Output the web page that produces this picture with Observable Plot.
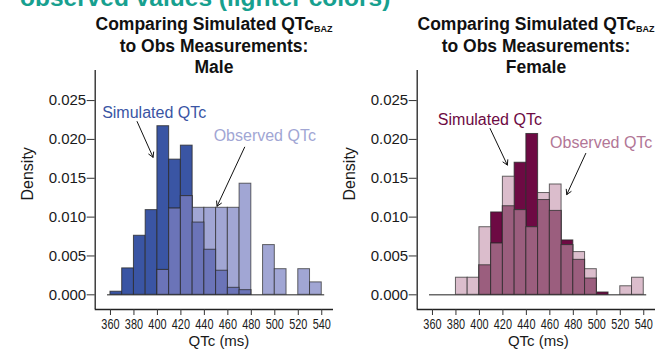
<!DOCTYPE html>
<html>
<head>
<meta charset="utf-8">
<script src="https://cdn.jsdelivr.net/npm/d3@7"></script>
<script src="https://cdn.jsdelivr.net/npm/@observablehq/plot@0.6"></script>
<style>
  body { margin: 0; background: #fff; font-family: "Liberation Sans", Arial, Helvetica, sans-serif; }
  #wrap { position: relative; width: 660px; height: 351px; overflow: hidden; background: #fff; }
  .top { position: absolute; left: 20px; top: -14px; font-weight: bold; font-size: 24.5px; line-height: 24px; color: #17a08f; white-space: nowrap; }
  .title { position: absolute; top: 14px; width: 320px; text-align: center; font-weight: bold; font-size: 17.5px; line-height: 21.5px; color: #111; white-space: nowrap; }
  .title sub { font-size: 9px; line-height: 0; position: relative; top: 2px; vertical-align: baseline; }
  .panel { position: absolute; top: 0; }
</style>
</head>
<body>
<div id="wrap">
  <div class="top">observed values (lighter colors)</div>
  <div class="title" id="tMale"></div>
  <div class="title" id="tFemale"></div>
  <div class="panel" id="pMale" style="left:0"></div>
  <div class="panel" id="pFemale" style="left:330px"></div>
</div>
<script>
// ---- data ----
const bins = [360,370,380,390,400,410,420,430,440,450,460,470,480,490,500,510,520,530];
const binWidth = 10;
const maleSim   = [0.0004,0.0034,0.0076,0.0109,0.0217,0.0174,0.0192,0.0093,0.0058,0.0031,0.0009,0.0006,0,0,0,0,0,0];
const maleObs   = [0,0,0,0,0.0032,0.0111,0.0127,0.0112,0.0112,0.0112,0.0112,0.0143,0,0.0064,0.0033,0,0.0033,0.0016];
const femaleSim = [0,0,0,0,0.0038,0.0106,0.0114,0.0170,0.0207,0.0122,0.0108,0.0070,0.0045,0.0021,0.0003,0,0,0];
const femaleObs = [0,0,0.0022,0.0022,0.0087,0.0066,0.0152,0.0109,0.0087,0.0131,0.0142,0.0064,0.0055,0.0033,0,0,0.0011,0.0022];
const xTicks = [360,380,400,420,440,460,480,500,520,540];
const yTicks = [0,0.005,0.010,0.015,0.020,0.025];
const xDomain = [347, 550];
const yDomain = [-0.00189, 0.02887];
const baselineSpan = [357.5, 542.5];
const titleLines = ["Comparing Simulated QTc", "to Obs Measurements:"];
const subscript = "BAZ";
const panelNames = ["Male", "Female"];
const simLabel = "Simulated QTc";
const obsLabel = "Observed QTc";
// annotation anchors in data units [x, y]
const maleSimText = [352.9, 0.0234], maleObsText = [447.9, 0.0204];
const maleSimArrow = [382.7, 0.0223, 396.3, 0.0177], maleObsArrow = [474.3, 0.0190, 450.8, 0.0114];
const femSimText = [364.6, 0.0225], femObsText = [460.2, 0.0196];
const femSimArrow = [409.1, 0.0214, 423.8, 0.0167], femObsArrow = [490.6, 0.0182, 474.4, 0.0129];

function title(el, name) {
  el.innerHTML = `${titleLines[0]}<sub>${subscript}</sub><br>${titleLines[1]}<br>${name}`;
}
title(document.getElementById("tMale"), panelNames[0]);
title(document.getElementById("tFemale"), panelNames[1]);
document.getElementById("tMale").style.left = (214 - 160) + "px";
document.getElementById("tFemale").style.left = (536 - 160) + "px";

function panel(o) {
  const rows = bins.map((b, i) => ({x1: b, x2: b + binWidth, sim: o.sim[i], obs: o.obs[i], both: Math.min(o.sim[i], o.obs[i])}));
  const edge = "#2a2a2a";
  const svg = Plot.plot({
    width: o.width, height: 351,
    marginTop: 70, marginBottom: 42, marginLeft: o.marginLeft, marginRight: o.marginRight,
    x: {domain: xDomain},
    y: {domain: yDomain},
    style: {fontFamily: "'Liberation Sans', Arial, sans-serif", color: "#1a1a1a", background: "transparent", overflow: "visible"},
    marks: [
      Plot.ruleY([0], {x1: baselineSpan[0], x2: baselineSpan[1], stroke: "#6a6a6a", strokeWidth: 1.6}),
      Plot.rect(rows.filter(d => d.sim > 0), {x1: "x1", x2: "x2", y1: 0, y2: "sim", fill: o.dark, stroke: edge, strokeOpacity: 0.8, strokeWidth: 1}),
      Plot.rect(rows.filter(d => d.obs > 0), {x1: "x1", x2: "x2", y1: 0, y2: "obs", fill: o.light, stroke: edge, strokeOpacity: 0.7, strokeWidth: 1}),
      Plot.rect(rows.filter(d => d.both > 0), {x1: "x1", x2: "x2", y1: 0, y2: "both", fill: o.mid, stroke: edge, strokeOpacity: 0.75, strokeWidth: 1}),
      Plot.ruleX([xDomain[0]], {stroke: "#222", strokeWidth: 1.3}),
      Plot.ruleY([yDomain[0]], {stroke: "#222", strokeWidth: 1.3}),
      Plot.axisY({ticks: yTicks, tickFormat: d3.format(".3f"), tickSize: 8, tickPadding: 1, fontSize: 15, label: null, stroke: "#333"}),
      Plot.axisX({ticks: xTicks, tickFormat: d => String(d), tickSize: 6, tickPadding: 4, fontSize: 14, label: null, stroke: "#333"}),
      Plot.text(["Density"], {frameAnchor: "left", rotate: -90, dx: -67, dy: 10.5, fontSize: 16, fill: "#1a1a1a"}),
      Plot.text(["QTc (ms)"], {frameAnchor: "bottom", dx: o.labelDx, dy: 36.8, fontSize: 15, fill: "#1a1a1a"}),
      Plot.text([simLabel], {x: () => o.simText[0], y: () => o.simText[1], textAnchor: "start", fontSize: 16, fill: o.simColor}),
      Plot.text([obsLabel], {x: () => o.obsText[0], y: () => o.obsText[1], textAnchor: "start", fontSize: 16, fill: o.obsColor}),
      Plot.arrow([o.simArrow, o.obsArrow], {x1: d => d[0], y1: d => d[1], x2: d => d[2], y2: d => d[3], stroke: "#111", strokeWidth: 1, headLength: 8})
    ]
  });
  // narrow tick labels on the x axis, as in the reference
  svg.querySelectorAll('[aria-label="x-axis tick label"] text').forEach(t => {
    const tr = t.getAttribute("transform") || "";
    t.setAttribute("transform", tr + " scale(0.78,1)");
  });
  return svg;
}

document.getElementById("pMale").appendChild(panel({
  sim: maleSim, obs: maleObs, width: 335, marginLeft: 94.7, marginRight: 2, labelDx: 4.6,
  dark: "#3a55a4", light: "#a1a6d4", mid: "#6b74b8", simColor: "#3a55a4", obsColor: "#a1a6d4",
  simText: maleSimText, obsText: maleObsText, simArrow: maleSimArrow, obsArrow: maleObsArrow
}));
document.getElementById("pFemale").appendChild(panel({
  sim: femaleSim, obs: femaleObs, width: 330, marginLeft: 86.7, marginRight: 5, labelDx: 2,
  dark: "#6d0a43", light: "#dbbdcc", mid: "#9b5e7e", simColor: "#6d0a43", obsColor: "#b27696",
  simText: femSimText, obsText: femObsText, simArrow: femSimArrow, obsArrow: femObsArrow
}));
</script>
</body>
</html>
